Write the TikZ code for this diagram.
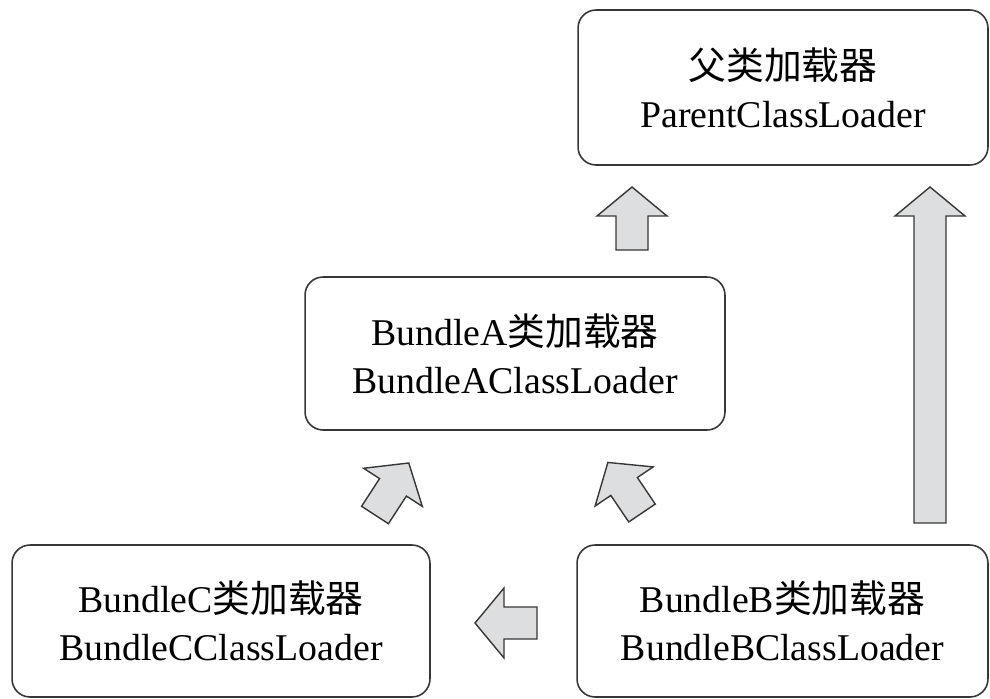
\documentclass[tikz,border=0pt]{standalone}
\usepackage{fontspec}
\setmainfont{Liberation Serif}
\newfontfamily\cjk{Noto Sans CJK SC}
\usepackage{tikz}
\usepackage{xcolor}
\definecolor{loaderline}{RGB}{55,55,55}
\definecolor{arrowgrey}{RGB}{220,222,223}
\newcommand{\blockarrow}[3]{%
  \draw[fatarrow, shift={(#1)}, rotate=#2] (0,-16) -- ({#3-29},-16) -- ({#3-29},-35) -- (#3,0)
    -- ({#3-29},35) -- ({#3-29},16) -- (0,16) -- cycle;}

\begin{document}
\begin{tikzpicture}[
    x=0.02cm, y=0.02cm,
    loader/.style={rectangle, draw=loaderline, line width=0.9pt, rounded corners=0.36cm,
        align=center, inner sep=0pt, font=\fontsize{21.5}{27.3}\selectfont},
    fatarrow/.style={draw=loaderline, fill=arrowgrey, line width=0.8pt, line join=miter}
]
\useasboundingbox (0,0) rectangle (990,698);
\node[loader, minimum width=8.2cm, minimum height=3.1cm] (parent) at (783,610.5) {{\cjk 父类加载器}\\ParentClassLoader};
\node[loader, minimum width=8.4cm, minimum height=3.06cm] (bundleA) at (515,344.5) {BundleA{\cjk 类加载器}\\BundleAClassLoader};
\node[loader, minimum width=8.36cm, minimum height=3.04cm] (bundleC) at (221,77) {BundleC{\cjk 类加载器}\\BundleCClassLoader};
\node[loader, minimum width=8.22cm, minimum height=3.04cm] (bundleB) at (782.5,77) {BundleB{\cjk 类加载器}\\BundleBClassLoader};
% tails of the block arrows
\coordinate (aTail) at (632,448);
\coordinate (bTail) at (930,175);
\coordinate (bcTail) at (537,75);
\coordinate (caTail) at (375,183);
\coordinate (baTail) at (642,185);
\blockarrow{aTail}{90}{63}
\blockarrow{bTail}{90}{336}
\blockarrow{bcTail}{180}{62}
\blockarrow{caTail}{57}{62}
\blockarrow{baTail}{124}{61}
\end{tikzpicture}
\end{document}
